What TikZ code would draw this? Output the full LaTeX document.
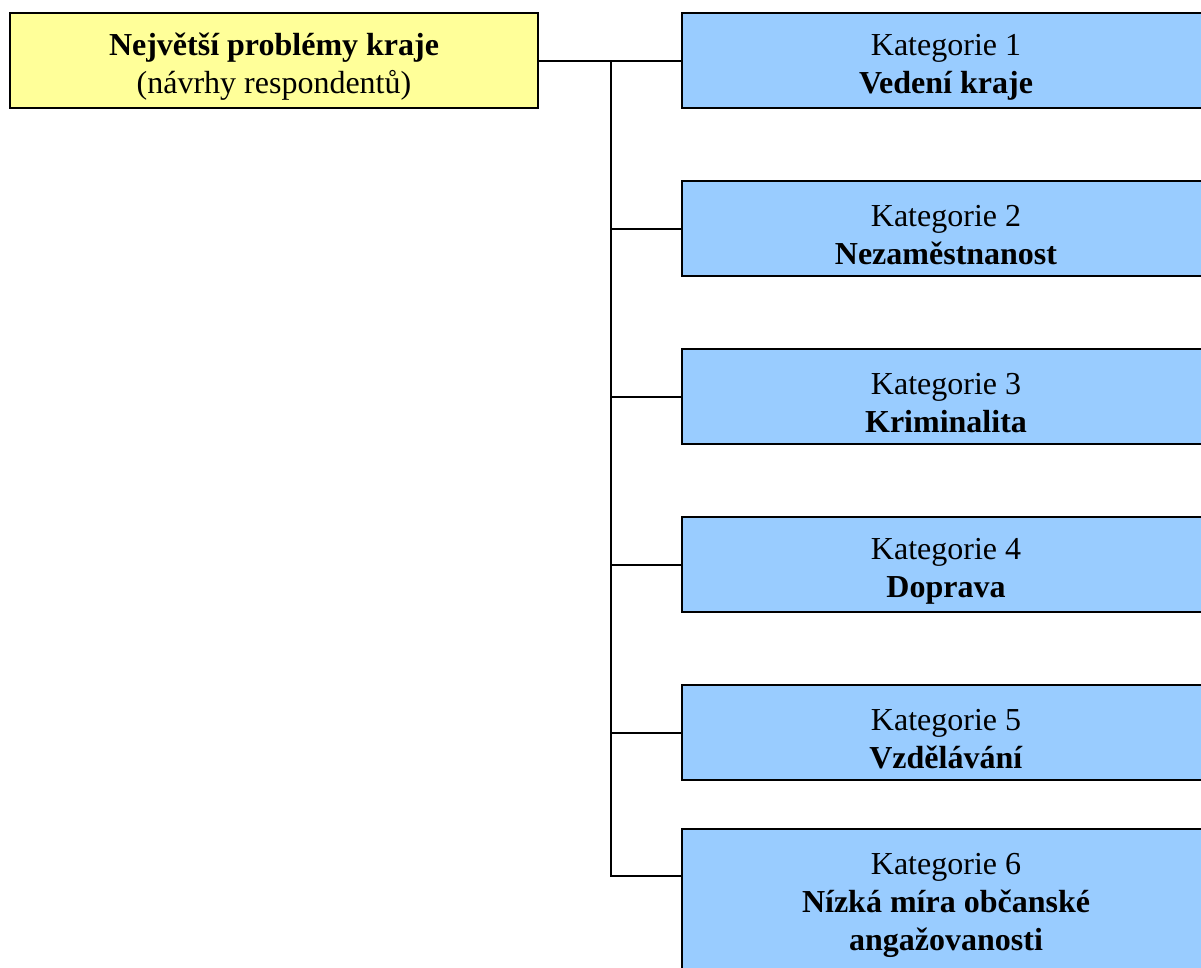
\documentclass[tikz,border=0pt]{standalone}
\usepackage{fontspec}
\setmainfont{Liberation Serif}
\usetikzlibrary{positioning,calc}
\definecolor{boxyellow}{HTML}{FFFF99}
\definecolor{boxblue}{HTML}{99CCFF}
\newcommand{\hrn}{\rule{0pt}{12.75pt}}
\tikzset{%
    topbox/.style={draw, line width=0.75pt, fill=boxyellow, minimum width=198pt,
        minimum height=35.625pt, inner sep=0pt, align=center,
        font=\fontsize{12}{14.25}\selectfont},
    katbox/.style={topbox, fill=boxblue},
    conn/.style={black, line width=0.75pt}%
}
\begin{document}
\begin{tikzpicture}[x=0.375pt, y=-0.375pt]

				\useasboundingbox (0,0) rectangle (1201,967);
				\clip (0,0) rectangle (1201,967);

				\node[topbox] (top) at (274,60.5) {\hrn\textbf{Největší problémy kraje}\\(návrhy respondentů)};

				\node[katbox, right=53.25pt of top] (kat1) {\hrn Kategorie 1\\\textbf{Vedení kraje}};
				\node[katbox, below=26.625pt of kat1] (kat2) {\hrn Kategorie 2\\\textbf{Nezaměstnanost}};
				\node[katbox, below=26.625pt of kat2] (kat3) {\hrn Kategorie 3\\\textbf{Kriminalita}};
				\node[katbox, below=26.625pt of kat3] (kat4) {\hrn Kategorie 4\\\textbf{Doprava}};
				\node[katbox, below=26.625pt of kat4] (kat5) {\hrn Kategorie 5\\\textbf{Vzdělávání}};
				\node[katbox, below=17.625pt of kat5, minimum height=52.5pt] (kat6) {\hrn Kategorie 6\\\textbf{Nízká míra občanské}\\\textbf{angažovanosti}};

				% vetveni
				\coordinate (j) at ($(top.east)+(27pt,0)$);
				\draw[conn] (top.east) -- (kat1.west);
				\draw[conn] (j) |- ([yshift=-18pt]kat6.north west);
				\foreach \k in {2,...,5}
					\draw[conn] (j |- kat\k.west) -- (kat\k.west);
			\end{tikzpicture}
\end{document}
